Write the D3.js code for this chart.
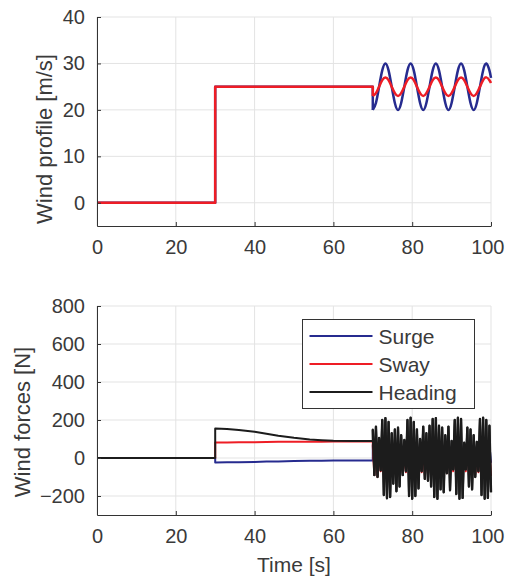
<!DOCTYPE html>
<html>
<head>
<meta charset="utf-8">
<script src="https://cdn.jsdelivr.net/npm/d3@7"></script>
<style>
    body { margin: 0; background: #fff; }
    svg text { font-family: "Liberation Sans", Arial, sans-serif; fill: #3a3a3a; }
</style>
</head>
<body>
<div id="chart"></div>
<script>

// ---- data ----

// top panel: wind profile [m/s]
let windStepT = [0, 30, 30, 70, 70];
let surgeWindStep = [0, 0, 25, 25, 20];
let swayWindStep = [0, 0, 25, 25, 23];

let windOscT = [70, 70.8, 71.6, 72.4, 73.2, 74, 74.8, 75.6, 76.4, 77.2, 78, 78.8, 79.6, 80.4, 81.2,
    82, 82.8, 83.6, 84.4, 85.2, 86, 86.8, 87.6, 88.4, 89.2, 90, 90.8, 91.6, 92.4, 93.2, 94, 94.8,
    95.6, 96.4, 97.2, 98, 98.8, 99.6, 100];
let surgeWindOsc = [20, 21.5, 25, 28.5, 30, 28.5, 25, 21.5, 20, 21.5, 25, 28.5, 30, 28.5, 25, 21.5,
    20, 21.5, 25, 28.5, 30, 28.5, 25, 21.5, 20, 21.5, 25, 28.5, 30, 28.5, 25, 21.5,
    20, 21.5, 25, 28.5, 30, 28.5, 26.9];
let swayWindOsc = [23, 23.6, 25, 26.4, 27, 26.4, 25, 23.6, 23, 23.6, 25, 26.4, 27, 26.4, 25, 23.6,
    23, 23.6, 25, 26.4, 27, 26.4, 25, 23.6, 23, 23.6, 25, 26.4, 27, 26.4, 25, 23.6,
    23, 23.6, 25, 26.4, 27, 26.4, 25.8];

// bottom panel: wind forces [N]
let forceT = [0, 30, 30, 33, 36, 40, 43, 46, 50, 54, 57, 60, 65, 70];
let surgeForce = [0, 0, -24, -23, -22, -21, -19, -18, -16, -15, -14, -13, -13, -13];
let swayForce = [0, 0, 82, 82, 83, 83, 84, 85, 85, 86, 86, 87, 87, 87];
let headingForce = [0, 0, 155, 152, 147, 138, 128, 117, 106, 98, 94, 91, 89, 90];

let forceOscT = [70, 70.4, 70.8, 71.2, 71.6, 72, 72.4, 72.8, 73.2, 73.6, 74, 74.4, 74.8, 75.2, 75.6,
    76, 76.4, 76.8, 77.2, 77.6, 78, 78.4, 78.8, 79.2, 79.6, 80, 80.4, 80.8, 81.2, 81.6, 82, 82.4,
    82.8, 83.2, 83.6, 84, 84.4, 84.8, 85.2, 85.6, 86, 86.4, 86.8, 87.2, 87.6, 88, 88.4, 88.8, 89.2,
    89.6, 90, 90.4, 90.8, 91.2, 91.6, 92, 92.4, 92.8, 93.2, 93.6, 94, 94.4, 94.8, 95.2, 95.6, 96,
    96.4, 96.8, 97.2, 97.6, 98, 98.4, 98.8, 99.2, 99.6, 100];
let surgeForceOsc = [70, -20, 72, -24, 65, -18, 75, -28, 76, -30, 74, -28, 68, -22, 72, -25,
    72, -24, 66, -20, 62, -16, 75, -28, 76, -30, 74, -28, 70, -24, 64, -18,
    72, -22, 68, -22, 72, -25, 75, -28, 76, -30, 70, -25, 70, -26, 66, -20,
    70, -25, 62, -16, 75, -28, 76, -30, 75, -28, 62, -16, 72, -22, 70, -24,
    66, -20, 62, -16, 75, -28, 76, -30, 75, -28, 70, -25];
let swayForceOsc = [60, -90, 55, -100, 40, -70, 65, -100, 70, -105, 60, -100, 45, -85, 55, -95,
    60, -95, 45, -80, 35, -75, 65, -100, 70, -105, 60, -100, 50, -95, 40, -75,
    55, -90, 45, -85, 60, -95, 65, -100, 70, -105, 55, -95, 55, -100, 45, -80,
    55, -95, 35, -70, 65, -100, 70, -105, 65, -100, 35, -70, 55, -90, 50, -95,
    45, -85, 35, -75, 65, -100, 70, -105, 65, -100, 55, -95];
let headingForceOsc = [150, -90, 165, -100, 105, -65, 200, -195, 210, -212, 190, -205, 130, -135, 150, -175,
    160, -150, 120, -90, 95, -70, 200, -200, 212, -215, 190, -200, 150, -160, 100, -70,
    165, -110, 130, -120, 170, -150, 205, -205, 210, -215, 170, -165, 160, -180, 120, -80,
    165, -170, 90, -60, 200, -190, 212, -215, 205, -210, 80, -60, 160, -150, 150, -165,
    120, -100, 85, -70, 205, -195, 212, -215, 200, -210, 170, -180];

let xTicks = [0, 20, 40, 60, 80, 100];
let windTicks = [0, 10, 20, 30, 40];
let forceTicks = [-200, 0, 200, 400, 600, 800];
let seriesNames = ["Surge", "Sway", "Heading"];
let seriesColors = ["#262b8f", "#ee1d25", "#1c1c1c"];

// ---- drawing ----

let W = 505, H = 580;
let svg = d3.select("#chart").append("svg")
    .attr("width", W)
    .attr("height", H);

function zip(ts, vs) {
    return ts.map((t, i) => [t, vs[i]]);
}

function makePanel(offsetY, yDomain, yTicks, yLabel, labelX, labelMid, xLabel) {
    let p = {};
    p.left = 97;
    p.width = 394;
    p.height = 209;
    p.g = svg.append("g").attr("transform", `translate(${p.left}, ${offsetY})`);

    p.x = d3.scaleLinear().domain([0, 100]).range([0, p.width]);
    p.y = d3.scaleLinear().domain(yDomain).range([p.height, 0]);

    // grid
    p.g.append("g").selectAll("line.vg").data(xTicks).enter().append("line")
        .attr("x1", d => p.x(d)).attr("x2", d => p.x(d))
        .attr("y1", 0).attr("y2", p.height)
        .attr("stroke", "#e3e3e3").attr("stroke-width", 1);
    p.g.append("g").selectAll("line.hg").data(yTicks).enter().append("line")
        .attr("x1", 0).attr("x2", p.width)
        .attr("y1", d => p.y(d)).attr("y2", d => p.y(d))
        .attr("stroke", "#e3e3e3").attr("stroke-width", 1);

    p.lines = p.g.append("g");

    // axes
    let xAxis = d3.axisBottom(p.x).tickValues(xTicks).tickSizeInner(-4).tickSizeOuter(0).tickPadding(14);
    let yAxis = d3.axisLeft(p.y).tickValues(yTicks).tickSizeInner(-4).tickSizeOuter(0).tickPadding(12);

    let gx = p.g.append("g").attr("transform", `translate(0, ${p.height})`).call(xAxis);
    let gy = p.g.append("g").call(yAxis);
    [gx, gy].forEach(a => {
        a.select(".domain").attr("stroke", "#333").attr("stroke-width", 1);
        a.selectAll(".tick line").attr("stroke", "#333");
        a.selectAll("text").attr("font-size", "20px").attr("fill", "#3a3a3a")
            .attr("font-family", "Liberation Sans, Arial, sans-serif");
    });
    // last x label is pulled in so it stays inside the figure
    gx.selectAll(".tick text").filter(d => d === 100)
        .attr("text-anchor", "end").attr("x", 13);

    p.g.append("text")
        .attr("transform", `translate(${labelX - p.left}, ${labelMid - offsetY}) rotate(-90)`)
        .attr("text-anchor", "middle")
        .attr("font-size", "22px")
        .text(yLabel);

    if (xLabel) {
        p.g.append("text")
            .attr("x", p.width / 2)
            .attr("y", p.height + 57)
            .attr("text-anchor", "middle")
            .attr("font-size", "21px")
            .text(xLabel);
    }
    return p;
}

function addLine(p, pts, color, width, curve) {
    let line = d3.line()
        .x(d => p.x(d[0]))
        .y(d => p.y(d[1]))
        .curve(curve || d3.curveLinear);
    p.lines.append("path")
        .datum(pts)
        .attr("fill", "none")
        .attr("stroke", color)
        .attr("stroke-width", width)
        .attr("stroke-linejoin", "round")
        .attr("d", line);
}

// top panel
let windPanel = makePanel(17, [-5, 40], windTicks, "Wind profile [m/s]", 52, 139, null);
addLine(windPanel, zip(windStepT, surgeWindStep), seriesColors[0], 2.5);
addLine(windPanel, zip(windOscT, surgeWindOsc), seriesColors[0], 2.5, d3.curveNatural);
addLine(windPanel, zip(windStepT, swayWindStep), seriesColors[1], 2.5);
addLine(windPanel, zip(windOscT, swayWindOsc), seriesColors[1], 2.5, d3.curveNatural);

// bottom panel
let forcePanel = makePanel(306, [-300, 800], forceTicks, "Wind forces [N]", 30, 422, "Time [s]");
addLine(forcePanel, zip(forceT, surgeForce).concat(zip(forceOscT, surgeForceOsc)), seriesColors[0], 2);
addLine(forcePanel, zip(forceT, swayForce).concat(zip(forceOscT, swayForceOsc)), seriesColors[1], 2);
addLine(forcePanel, zip(forceT, headingForce).concat(zip(forceOscT, headingForceOsc)), seriesColors[2], 2);
// the fast part of the heading trace reads as a slightly heavier stroke
addLine(forcePanel, zip(forceOscT, headingForceOsc), seriesColors[2], 2.4);

// legend
let legend = svg.append("g").attr("transform", "translate(302.5, 319.5)");
legend.append("rect")
    .attr("width", 172).attr("height", 89)
    .attr("fill", "#fff").attr("stroke", "#333").attr("stroke-width", 1);
seriesNames.forEach((name, i) => {
    let yy = 16.5 + i * 28;
    legend.append("line")
        .attr("x1", 7).attr("x2", 70)
        .attr("y1", yy).attr("y2", yy)
        .attr("stroke", seriesColors[i]).attr("stroke-width", 2);
    legend.append("text")
        .attr("x", 76).attr("y", yy)
        .attr("dy", "0.36em")
        .attr("font-size", "21px")
        .text(name);
});

</script>
</body>
</html>
